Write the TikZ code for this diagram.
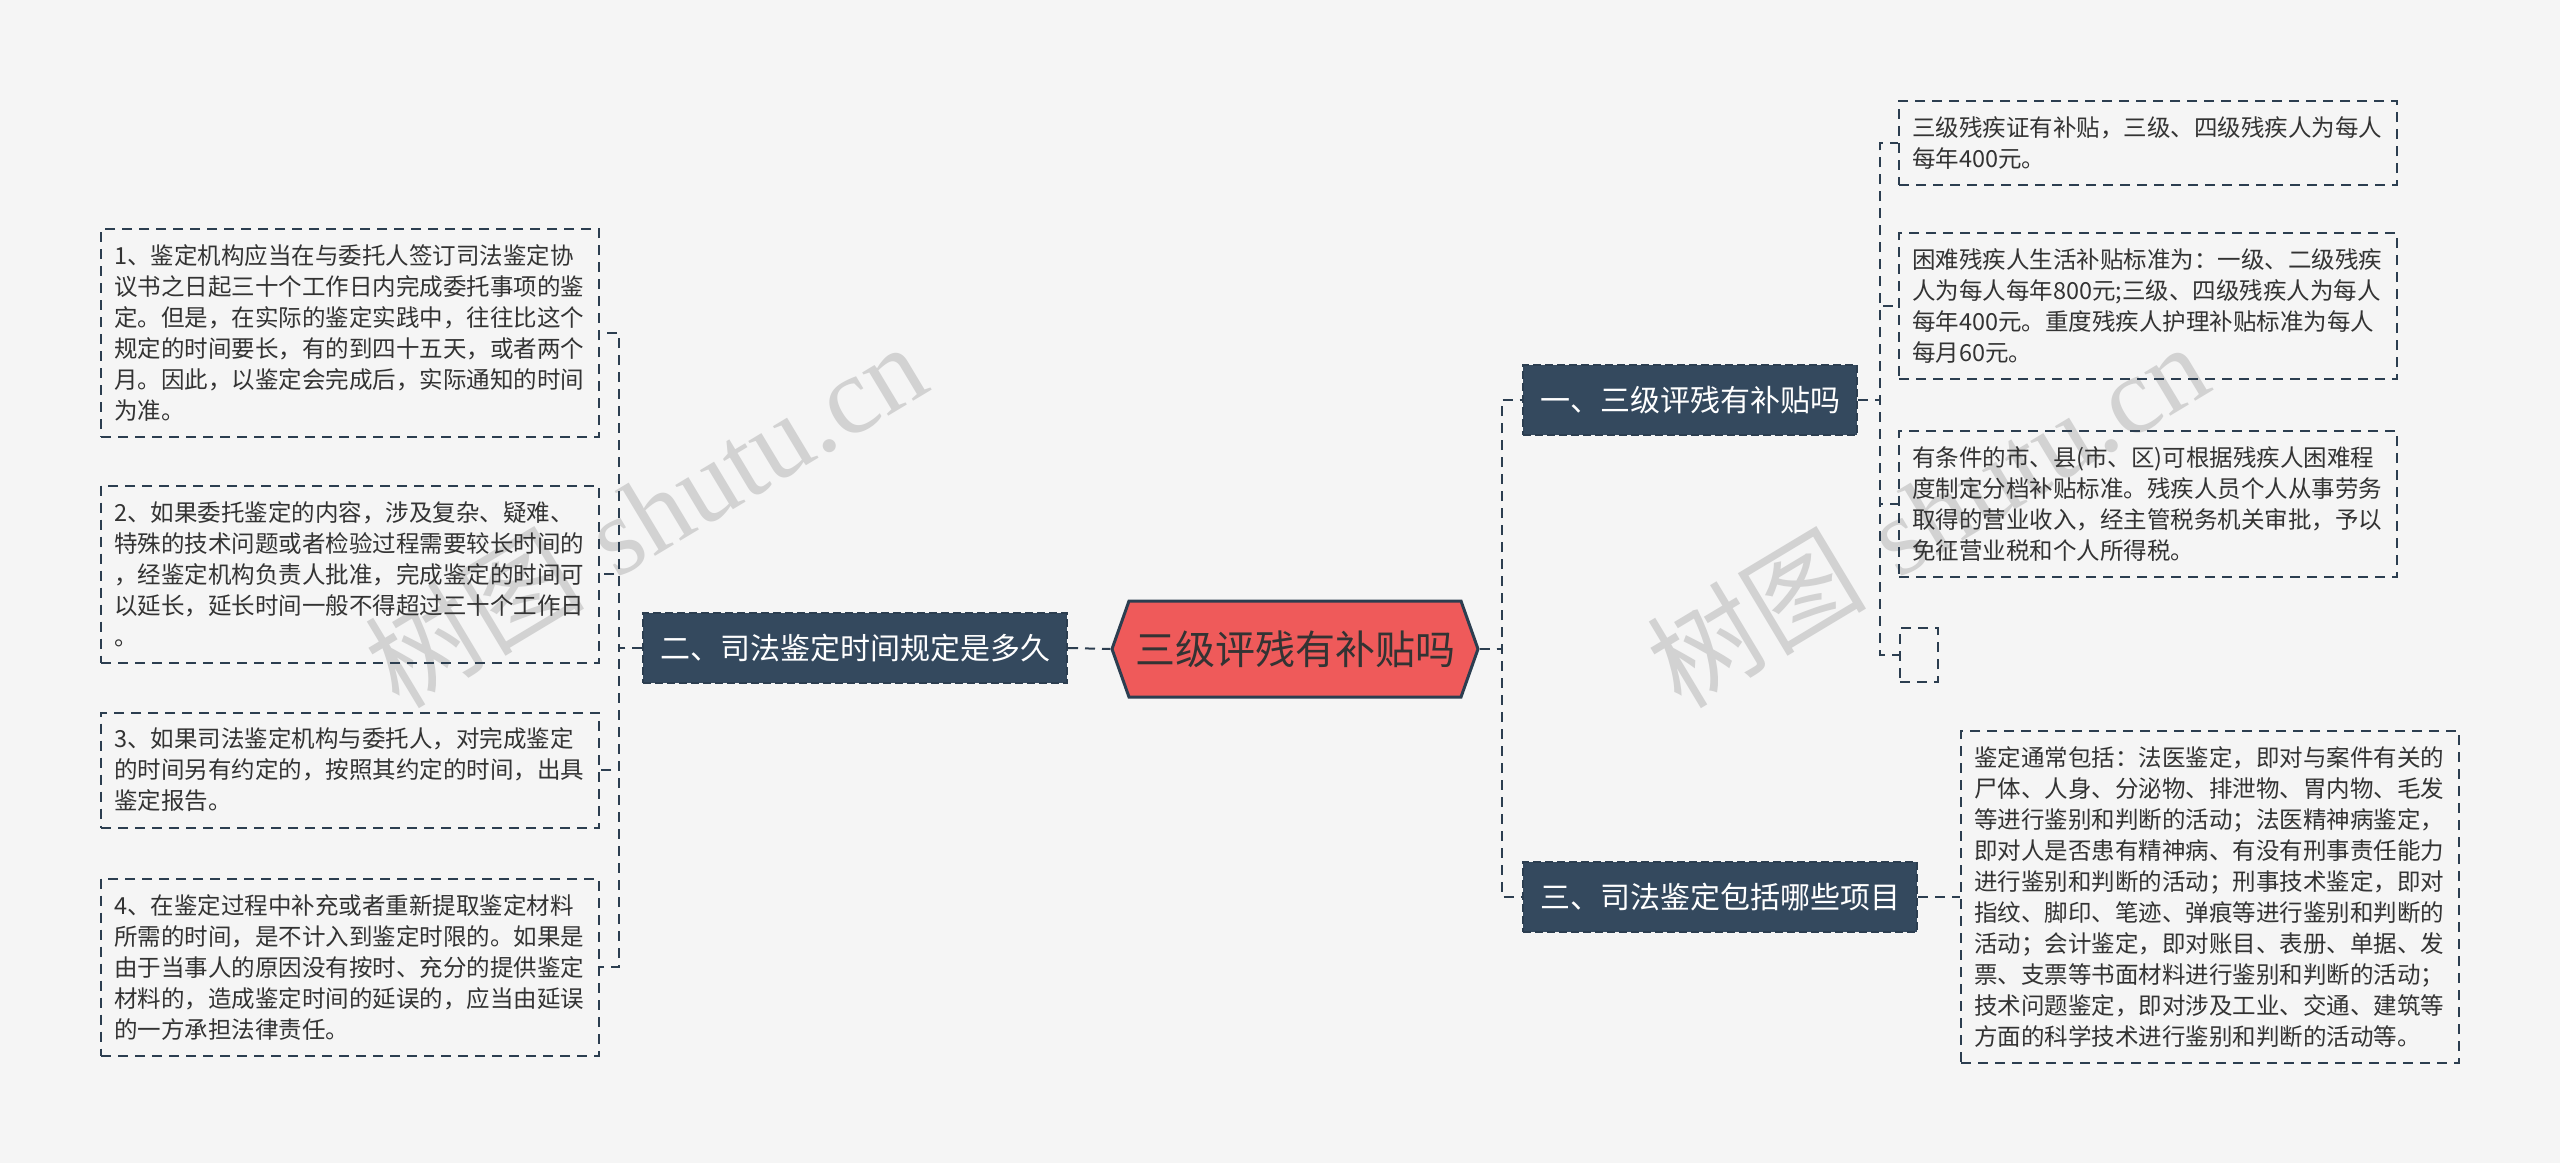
\documentclass[tikz,border=0pt]{standalone}
\usepackage{fontspec}
\newfontfamily\cjk{Noto Sans CJK SC}
\newfontfamily\wmlatin{Liberation Serif}
\usetikzlibrary{shapes.symbols}
\usepackage{xcolor}
\definecolor{bgcol}{HTML}{F5F5F5}
\definecolor{rootred}{HTML}{EF5A5A}
\definecolor{navy}{HTML}{34495E}
\definecolor{edge}{HTML}{2C3E50}
\definecolor{ink}{HTML}{333333}
\definecolor{mark}{HTML}{D2D2D2}

\begin{document}
\begin{tikzpicture}[x=1pt,y=-1pt,
    link/.style={draw=edge, line width=2pt, dash pattern=on 10pt off 7pt},
    root/.style={signal, signal to=west and east, signal pointer angle=141, fill=rootred, draw=edge, line width=3pt, minimum width=366pt, minimum height=96pt, inner sep=0pt, text=ink, font=\cjk\fontsize{40pt}{48pt}\selectfont},
    branch/.style={fill=navy, draw=edge, line width=2pt, dash pattern=on 8pt off 4pt, minimum height=70pt, inner xsep=17pt, inner ysep=0pt, text=white, font=\cjk\fontsize{30pt}{36pt}\selectfont},
    leaf/.style={draw=edge, line width=2pt, dash pattern=on 10pt off 7pt, text width=472pt, inner xsep=13pt, inner ysep=0pt, minimum height=#1, align=left, text=ink, font=\cjk\fontsize{23.5pt}{31pt}\selectfont},
  ]

    \useasboundingbox (0,0) rectangle (2560,1163);
    \fill[bgcol] (0,0) rectangle (2560,1163);

    % Draw the two watermarks
    \node[text=mark, rotate=31, font=\fontsize{110pt}{110pt}\selectfont] (wm1) at (645,514) {{\cjk 树图} {\wmlatin shutu.cn}};
    \node[text=mark, rotate=31, font=\fontsize{110pt}{110pt}\selectfont] (wm2) at (1927,514) {{\cjk 树图} {\wmlatin shutu.cn}};

    % Draw the root and the three branches
    \node[root] (root) at (1295,649) {三级评残有补贴吗};
    \node[branch, anchor=west] (b1) at (1522,400) {一、三级评残有补贴吗};
    \node[branch, anchor=east] (b2) at (1068,648) {二、司法鉴定时间规定是多久};
    \node[branch, anchor=west] (b3) at (1522,897) {三、司法鉴定包括哪些项目};

    % Draw the leaves of branch two (left side)
    \node[leaf=208pt] (l1) at (350,333) {1、鉴定机构应当在与委托人签订司法鉴定协\\议书之日起三十个工作日内完成委托事项的鉴\\定。但是，在实际的鉴定实践中，往往比这个\\规定的时间要长，有的到四十五天，或者两个\\月。因此，以鉴定会完成后，实际通知的时间\\为准。};
    \node[leaf=177pt] (l2) at (350,574) {2、如果委托鉴定的内容，涉及复杂、疑难、\\特殊的技术问题或者检验过程需要较长时间的\\，经鉴定机构负责人批准，完成鉴定的时间可\\以延长，延长时间一般不得超过三十个工作日\\。};
    \node[leaf=115pt] (l3) at (350,770) {3、如果司法鉴定机构与委托人，对完成鉴定\\的时间另有约定的，按照其约定的时间，出具\\鉴定报告。};
    \node[leaf=177pt] (l4) at (350,967) {4、在鉴定过程中补充或者重新提取鉴定材料\\所需的时间，是不计入到鉴定时限的。如果是\\由于当事人的原因没有按时、充分的提供鉴定\\材料的，造成鉴定时间的延误的，应当由延误\\的一方承担法律责任。};

    % Draw the leaves of branch one
    \node[leaf=84pt] (r1) at (2148,143) {三级残疾证有补贴，三级、四级残疾人为每人\\每年400元。};
    \node[leaf=146pt] (r2) at (2148,306) {困难残疾人生活补贴标准为：一级、二级残疾\\人为每人每年800元;三级、四级残疾人为每人\\每年400元。重度残疾人护理补贴标准为每人\\每月60元。};
    \node[leaf=146pt] (r3) at (2148,504) {有条件的市、县(市、区)可根据残疾人困难程\\度制定分档补贴标准。残疾人员个人从事劳务\\取得的营业收入，经主管税务机关审批，予以\\免征营业税和个人所得税。};
    \node[draw=edge, line width=2pt, dash pattern=on 10pt off 7pt, minimum width=38pt, minimum height=54pt, inner sep=0pt] (r4) at (1919,655) {};

    % Draw the leaf of branch three
    \node[leaf=332pt] (r5) at (2210,897) {鉴定通常包括：法医鉴定，即对与案件有关的\\尸体、人身、分泌物、排泄物、胃内物、毛发\\等进行鉴别和判断的活动；法医精神病鉴定，\\即对人是否患有精神病、有没有刑事责任能力\\进行鉴别和判断的活动；刑事技术鉴定，即对\\指纹、脚印、笔迹、弹痕等进行鉴别和判断的\\活动；会计鉴定，即对账目、表册、单据、发\\票、支票等书面材料进行鉴别和判断的活动；\\技术问题鉴定，即对涉及工业、交通、建筑等\\方面的科学技术进行鉴别和判断的活动等。};

    % Draw the connectors
    \draw[link] (b2.east) -- (root.west);
    \foreach \n in {b1,b3} {
        \draw[link] (root.east) -- ++(22,0) |- (\n.west);
    }
    \foreach \n in {l1,l2,l3,l4} {
        \draw[link] (b2.west) -- ++(-23,0) |- (\n.east);
    }
    \foreach \n in {r1,r2,r3,r4} {
        \draw[link] (b1.east) -- ++(22,0) |- (\n.west);
    }
    \draw[link] (b3.east) -- (r5.west);

\end{tikzpicture}
\end{document}
